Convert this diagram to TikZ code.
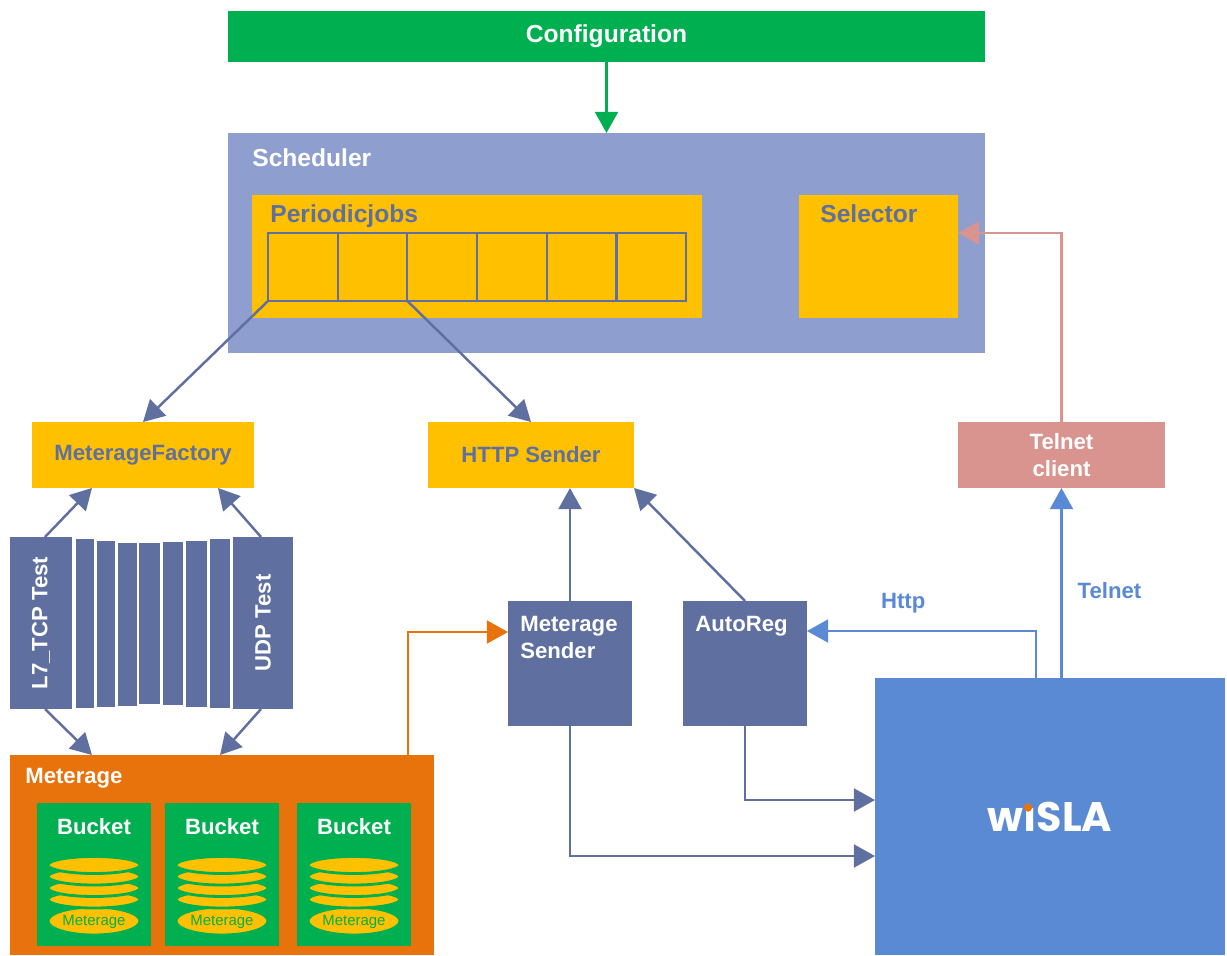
\documentclass[tikz,border=0pt]{standalone}
\usepackage{fontspec}
\setmainfont{Liberation Sans}
\newfontfamily\logofont{Poppins}
\usetikzlibrary{arrows.meta, positioning, calc}

\definecolor{cfggreen}{HTML}{00B050}
\definecolor{schedblue}{HTML}{8E9FCF}
\definecolor{jobyellow}{HTML}{FFC000}
\definecolor{slate}{HTML}{5F6FA0}
\definecolor{telpink}{HTML}{D9948F}
\definecolor{meterorange}{HTML}{E8720C}
\definecolor{wislablue}{HTML}{5A8AD4}

\def\pxu{0.2mm}
\newcommand\bigf{\bfseries\fontsize{14}{16}\selectfont}
\newcommand\midf{\bfseries\fontsize{12.6}{15.4}\selectfont}

\tikzset{
  blk/.style={inner sep=0pt, outer sep=0pt, anchor=north west},
  lbl/.style={inner sep=0pt, anchor=base west},
  cellbox/.style={blk, draw=slate, line width=1.2pt, minimum width=69.7*\pxu, minimum height=68*\pxu},
  disk/.style={fill=jobyellow, draw=cfggreen, line width=1.6pt},
  conn/.style={line width=1.4pt, draw=#1, -{Triangle[length=12pt, width=13pt, fill=#1]}},
  conn/.default=slate,
}

\begin{document}
\begin{tikzpicture}[x=0.2mm, y=-0.2mm]
\useasboundingbox (0,0) rectangle (1227,955);

% Configuration and Scheduler
\node[blk, fill=cfggreen, minimum width=757*\pxu, minimum height=51*\pxu, text=white, font=\bigf] (config) at (228,11) {Configuration};
\node[blk, fill=schedblue, minimum width=757*\pxu, minimum height=220*\pxu] (sched) at (228,133) {};
\node[lbl, text=white, font=\bigf] (schedtxt) at ($(sched.north west)+(24,33)$) {Scheduler};

\node[blk, fill=jobyellow, minimum width=450*\pxu, minimum height=123*\pxu] (jobs) at (252,195) {};
\node[lbl, text=slate, font=\bigf] (jobstxt) at ($(jobs.north west)+(18,27)$) {Periodicjobs};
\foreach \i in {1,...,6} {
    \node[cellbox] (cell\i) at ({268+(\i-1)*69.7},233) {};
}
\node[blk, fill=jobyellow, minimum width=159*\pxu, minimum height=123*\pxu] (selector) at (799,195) {};
\node[lbl, text=slate, font=\bigf] (seltxt) at ($(selector.north west)+(21,27)$) {Selector};

% Middle row
\node[blk, fill=jobyellow, minimum width=222*\pxu, minimum height=66*\pxu, text=slate, font=\midf] (mf) at (32,422) {MeterageFactory};
\node[blk, fill=jobyellow, minimum width=206*\pxu, minimum height=66*\pxu, text=slate, font=\midf] (http) at (428,422) {HTTP Sender};
\node[blk, fill=telpink, minimum width=207*\pxu, minimum height=66*\pxu, text=white, font=\midf, align=center] (telnet) at (958,422) {Telnet\\client};

% Test columns
\node[blk, fill=slate, minimum width=62*\pxu, minimum height=172*\pxu] (l7) at (10,537) {};
\node[rotate=90, text=white, font=\midf] (l7txt) at (l7.center) {L7\_TCP Test};
\foreach \x/\w/\t/\b [count=\k] in {76/18/539/708, 97/18/541/707, 118/19/543/706, 139/21/543/704, 163/20/542/705, 186/21/541/707, 210/20/539/708} {
    \node[blk, fill=slate, minimum width=\w*\pxu, minimum height={(\b-\t)*\pxu}] (mid\k) at (\x,\t) {};
}
\node[blk, fill=slate, minimum width=60*\pxu, minimum height=172*\pxu] (udp) at (233,537) {};
\node[rotate=90, text=white, font=\midf] (udptxt) at (udp.center) {UDP Test};

% Meterage with buckets
\node[blk, fill=meterorange, minimum width=424*\pxu, minimum height=200*\pxu] (meter) at (10,755) {};
\node[lbl, text=white, font=\midf] (metertxt) at ($(meter.north west)+(15,28)$) {Meterage};
\foreach \i/\x in {1/37, 2/165, 3/297} {
    \node[blk, fill=cfggreen, minimum width=114*\pxu, minimum height=143*\pxu] (bucket\i) at (\x,803) {};
    \node[lbl, anchor=base, text=white, font=\midf] (bktxt\i) at ($(bucket\i.north)+(0,31)$) {Bucket};
    \draw[disk] ($(bucket\i.north)+(0,118)$) ellipse [x radius=46, y radius=14];
    \node[text=cfggreen, font=\fontsize{8.5}{10}\selectfont] (mtxt\i) at ($(bucket\i.north)+(0,118.5)$) {Meterage};
    \foreach \dy in {96.5,85,73.5,62}
        \draw[disk] ($(bucket\i.north)+(0,\dy)$) ellipse [x radius=46, y radius=8.5];
}

% Senders and wiSLA
\node[blk, fill=slate, minimum width=124*\pxu, minimum height=125*\pxu] (msend) at (508,601) {};
\node[lbl, anchor=north west, align=left, text=white, font=\midf] (msendtxt) at ($(msend.north west)+(12,15)$) {Meterage\\Sender};
\node[blk, fill=slate, minimum width=124*\pxu, minimum height=125*\pxu] (autoreg) at (683,601) {};
\node[lbl, anchor=north west, text=white, font=\midf] (autoregtxt) at ($(autoreg.north west)+(12,15)$) {AutoReg};
\node[blk, fill=wislablue, minimum width=350*\pxu, minimum height=277*\pxu, text=white, font=\logofont\bfseries\fontsize{23.5}{26}\selectfont] (wisla) at (875,678) {w\i SLA};
\fill[meterorange] ($(wisla.center)+(-22,-9)$) circle [radius=4.2];

% Connectors
\draw[conn=cfggreen] (config.south) -- (sched.north);
\draw[conn] (cell1.south west) -- (mf.north);
\draw[conn] (cell3.south west) -- (http.north);
\draw[conn] ($(l7.north)+(4,0)$) -- ($(mf.south west)+(60,0)$);
\draw[conn] ($(udp.north)-(2,0)$) -- ($(mf.south east)-(36,0)$);
\draw[conn] ($(l7.south)+(4,0)$) -- ($(meter.north west)+(82,0)$);
\draw[conn] ($(udp.south)-(2,0)$) -- ($(meter.north west)+(210,0)$);
\draw[conn=meterorange] ($(meter.north west)+(398,0)$) |- ($(msend.north west)+(0,31)$);
\draw[conn] (msend.north) -- (msend.north |- http.south);
\draw[conn] (autoreg.north) -- (http.south east);
\draw[conn] (autoreg.south) |- ($(wisla.north west)+(0,122)$);
\draw[conn] (msend.south) |- ($(wisla.north west)+(0,178)$);
\draw[conn=wislablue] ($(wisla.north west)+(161,0)$) |- ($(autoreg.north east)+(0,30)$)
    node[pos=0.79, above=2.2mm, text=wislablue, font=\midf] (httptxt) {Http};
\draw[conn=wislablue] (wisla.north -| telnet.south) -- (telnet.south)
    node[pos=0.46, anchor=west, xshift=3mm, inner sep=0pt, text=wislablue, font=\midf] (telnettxt) {Telnet};
\draw[conn=telpink] (telnet.north) |- ($(selector.north east)+(0,38)$);
\end{tikzpicture}
\end{document}
